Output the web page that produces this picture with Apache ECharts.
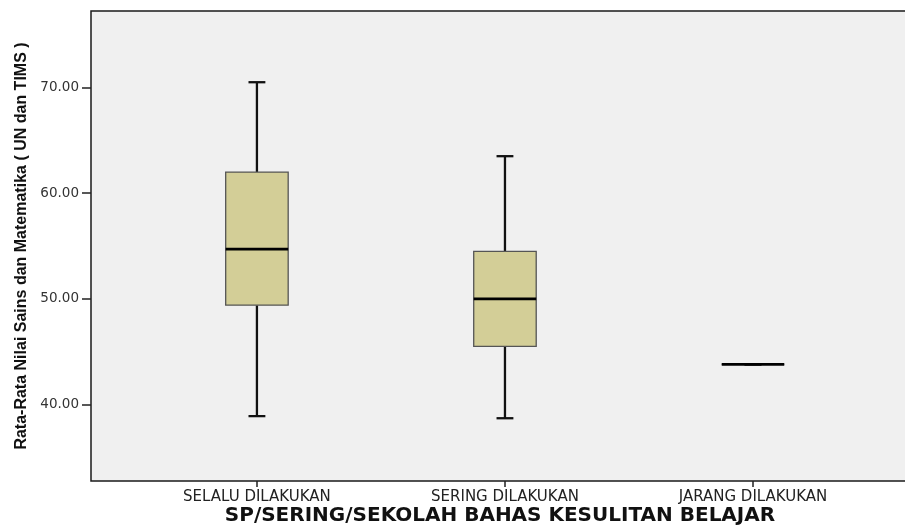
<!DOCTYPE html>
<html>
<head>
<meta charset="utf-8">
<script src="https://cdn.jsdelivr.net/npm/echarts@6/dist/echarts.min.js"></script>
<style>
  html, body { margin: 0; padding: 0; background: #ffffff; }
  #chart { width: 905px; height: 527px; }
</style>
</head>
<body>
<div id="chart"></div>
<script>
// Five-number summaries per group
const categories = ['SELALU DILAKUKAN', 'SERING DILAKUKAN', 'JARANG DILAKUKAN'];
const minValues    = [38.9, 38.7, 43.8];
const q1Values     = [49.4, 45.5, 43.8];
const medianValues = [54.7, 50.0, 43.8];
const q3Values     = [62.0, 54.5, 43.8];
const maxValues    = [70.5, 63.5, 43.8];
const yTickValues  = [40, 50, 60, 70];

const boxRows = categories.map((c, i) =>
  [i, minValues[i], q1Values[i], medianValues[i], q3Values[i], maxValues[i]]);

const chart = echarts.init(document.getElementById('chart'), null, { renderer: 'canvas' });

function renderBox(params, api) {
  const i = api.value(0);
  const lo = api.coord([i, api.value(1)]);
  const q1 = api.coord([i, api.value(2)]);
  const md = api.coord([i, api.value(3)]);
  const q3 = api.coord([i, api.value(4)]);
  const hi = api.coord([i, api.value(5)]);
  const unit = api.size([1, 0])[0];
  const bw = unit * 0.252;
  const cw = unit * 0.068;
  const x = md[0];
  const whisker = { stroke: '#111', lineWidth: 2.3 };
  return {
    type: 'group',
    children: [
      { type: 'line', shape: { x1: x, y1: hi[1], x2: x, y2: q3[1] }, style: whisker },
      { type: 'line', shape: { x1: x, y1: q1[1], x2: x, y2: lo[1] }, style: whisker },
      { type: 'line', shape: { x1: x - cw / 2, y1: hi[1], x2: x + cw / 2, y2: hi[1] }, style: whisker },
      { type: 'line', shape: { x1: x - cw / 2, y1: lo[1], x2: x + cw / 2, y2: lo[1] }, style: whisker },
      { type: 'rect', shape: { x: x - bw / 2, y: q3[1], width: bw, height: q1[1] - q3[1] },
        style: { fill: '#d3ce97', stroke: '#555', lineWidth: 1.3 } },
      { type: 'line', shape: { x1: x - bw / 2, y1: md[1], x2: x + bw / 2, y2: md[1] },
        style: { stroke: '#000', lineWidth: 2.6 } }
    ]
  };
}

chart.setOption({
  animation: false,
  backgroundColor: '#ffffff',
  grid: {
    left: 91, right: -4, top: 11, bottom: 46,
    outerBoundsMode: 'none',
    containLabel: false,
    show: true,
    backgroundColor: '#f0f0f0',
    borderColor: '#1a1a1a',
    borderWidth: 1.5
  },
  xAxis: {
    type: 'value',
    min: -0.669,
    max: 2.629,
    splitLine: { show: false },
    axisLine: { show: false, onZero: false },
    axisTick: { show: true, customValues: [0, 1, 2], length: 6, inside: false,
      lineStyle: { color: '#222', width: 1.5 } },
    axisLabel: {
      customValues: [0, 1, 2],
      formatter: v => categories[Math.round(v)] || '',
      margin: 9,
      color: '#222',
      fontFamily: 'DejaVu Sans',
      fontSize: 15
    },
    name: 'SP/SERING/SEKOLAH BAHAS KESULITAN BELAJAR',
    nameLocation: 'middle',
    nameGap: 25,
    nameMoveOverlap: false,
    nameTextStyle: {
      color: '#111',
      fontFamily: 'DejaVu Sans',
      fontWeight: 'bold',
      fontSize: 20
    }
  },
  yAxis: {
    type: 'value',
    min: 32.76,
    max: 77.24,
    splitLine: { show: false },
    axisLine: { show: false, onZero: false },
    axisTick: { show: true, customValues: yTickValues, length: 9,
      lineStyle: { color: '#222', width: 1.5 } },
    axisLabel: {
      customValues: yTickValues,
      formatter: v => v.toFixed(2),
      margin: 12,
      color: '#333',
      fontFamily: 'DejaVu Sans',
      fontSize: 13.5
    },
    name: 'Rata-Rata Nilai Sains dan Matematika ( UN dan TIMS )',
    nameLocation: 'middle',
    nameGap: 61,
    nameMoveOverlap: false,
    nameTextStyle: {
      color: '#111',
      fontFamily: '"Liberation Sans", Arial, sans-serif',
      fontWeight: 'bold',
      fontSize: 16
    }
  },
  series: [{
    type: 'custom',
    renderItem: renderBox,
    encode: { x: 0, y: [1, 2, 3, 4, 5] },
    data: boxRows,
    clip: false
  }]
});
</script>
</body>
</html>
